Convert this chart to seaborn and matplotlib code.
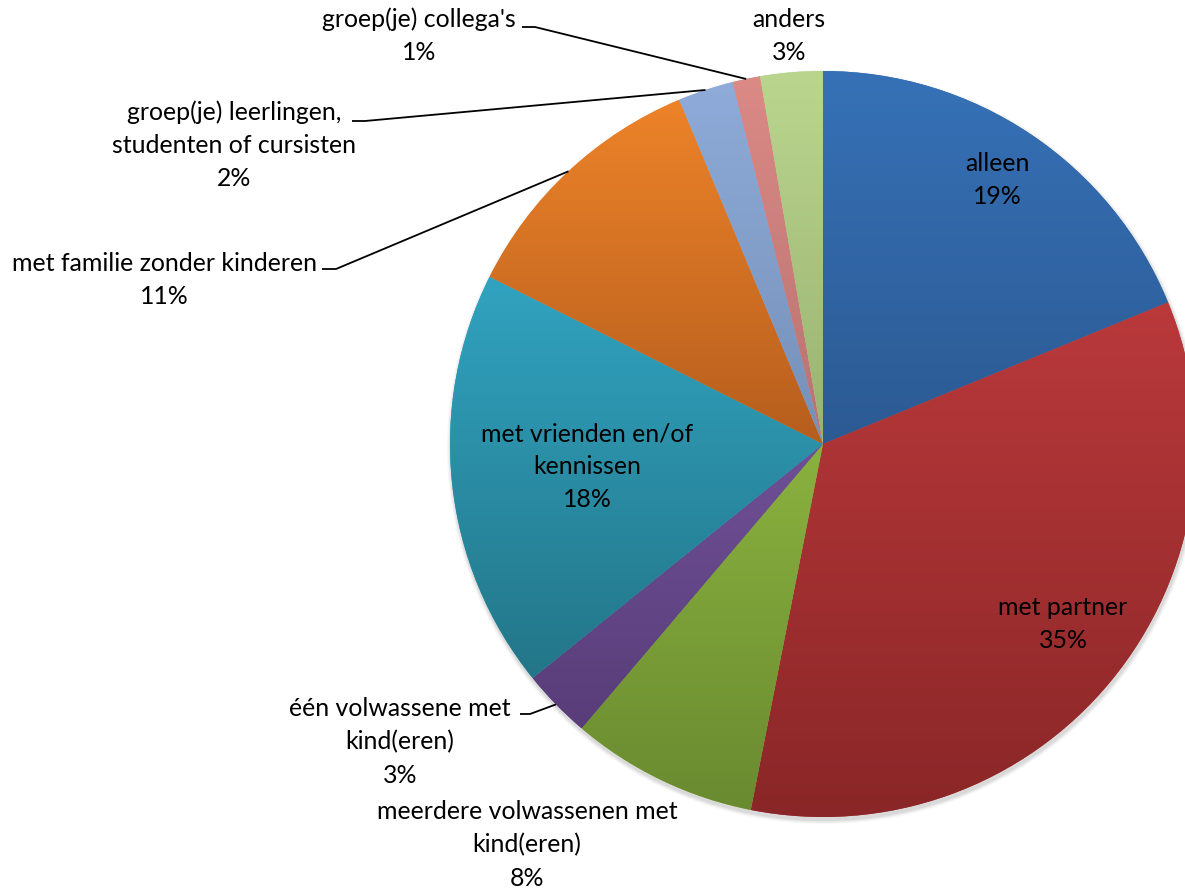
import numpy as np
import matplotlib
matplotlib.use("Agg")
import matplotlib.pyplot as plt
import matplotlib.colors as mcolors
from matplotlib.patches import Circle
import seaborn as sns

# data (clockwise from 12 o'clock)
categories = [
    "alleen",
    "met partner",
    "meerdere volwassenen met\nkind(eren)",
    "één volwassene met\nkind(eren)",
    "met vrienden en/of\nkennissen",
    "met familie zonder kinderen",
    "groep(je) leerlingen,\nstudenten of cursisten",
    "groep(je) collega's",
    "anders",
]
shares = [18.8, 34.3, 8.1, 3.0, 18.2, 11.3, 2.4, 1.2, 2.7]
pct_labels = ["19%", "35%", "8%", "3%", "18%", "11%", "2%", "1%", "3%"]

# gradient colours per slice: top -> bottom
top_colors = ["#3671b7", "#ba393b", "#8ab23f", "#6f5096", "#31a3c0",
              "#ed8329", "#8eabd9", "#db8a86", "#bad68e"]
bottom_colors = ["#2c5a93", "#8a2627", "#6a8a30", "#583d79", "#237688",
                 "#b65e1e", "#7590b8", "#b87270", "#9ab272"]

# label layout in pixels (center of text block), leader elbow (x0, x1, y) or None
label_pos = [(997, 180), (1063, 624), (527, 845), (400, 742), (587, 467),
             (164, 280), (234, 145), (419, 36), (789, 36)]
leaders = [None, None, None, (520, 530, 714), None,
           (322, 336, 269), (352, 365, 121), (522, 535, 27), None]

W, H = 1185, 889
sns.set_theme(style="white")
plt.rcParams["font.family"] = ["Lato", "DejaVu Sans"]

fig = plt.figure(figsize=(W / 100, H / 100), dpi=100)
ax = fig.add_axes([0, 0, 1, 1])

cx, cy, r = 823, H - 444, 373

# soft shadow
for k, a in enumerate([0.03, 0.03, 0.04, 0.05]):
    ax.add_patch(Circle((cx + 1, cy - 3), r + 4 - k, facecolor="#000000",
                        alpha=a, edgecolor="none", zorder=0))

wedges, _ = ax.pie(shares, startangle=90, counterclock=False, center=(cx, cy),
                   radius=r, colors=top_colors, wedgeprops=dict(linewidth=0))

for w, c_top, c_bot in zip(wedges, top_colors, bottom_colors):
    ang = np.radians(np.linspace(w.theta1, w.theta2, 200))
    xs = np.concatenate([[cx], cx + r * np.cos(ang)])
    ys = np.concatenate([[cy], cy + r * np.sin(ang)])
    t = np.linspace(0, 1, 256)[:, None]
    img = (1 - t) * np.array(mcolors.to_rgb(c_top)) + t * np.array(mcolors.to_rgb(c_bot))
    im = ax.imshow(img[:, None, :], extent=[xs.min(), xs.max(), ys.min(), ys.max()],
                   origin="upper", aspect="auto", interpolation="bilinear",
                   zorder=w.get_zorder() + 0.1)
    im.set_clip_path(w)

fs = 17.9
for w, cat, pct, (px, py), ld in zip(wedges, categories, pct_labels, label_pos, leaders):
    ax.text(px, H - py, cat + "\n" + pct, ha="center", va="center",
            multialignment="center", fontsize=fs, linespacing=1.52,
            color="#000000", zorder=5)
    if ld is not None:
        mid = np.radians((w.theta1 + w.theta2) / 2)
        ex, ey = cx + r * np.cos(mid), cy + r * np.sin(mid)
        x0, x1, yl = ld
        ax.plot([x0, x1, ex], [H - yl, H - yl, ey], color="#000000", lw=1.3,
                zorder=5, solid_capstyle="butt")

ax.set_xlim(0, W)
ax.set_ylim(0, H)
ax.set_aspect("auto")
ax.axis("off")

fig.savefig("out.png", dpi=100, facecolor="white")
